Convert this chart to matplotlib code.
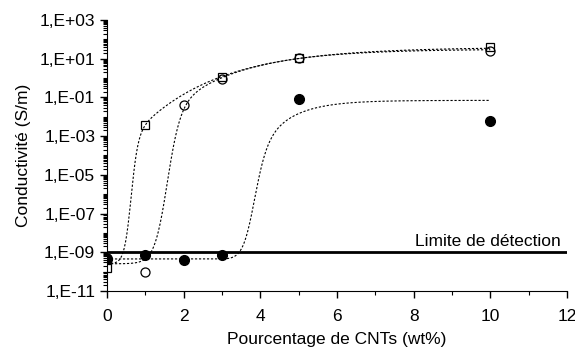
import numpy as np
import matplotlib
matplotlib.use("Agg")
import matplotlib.pyplot as plt
from matplotlib import ticker

plt.rcParams['font.family'] = ['Liberation Sans', 'DejaVu Sans']

# measured conductivity (S/m) vs CNT content (wt%)
pct = [0, 1, 2, 3, 5, 10]
filled_circles = [4.5e-10, 7e-10, 3.8e-10, 7e-10, 8e-2, 5.8e-3]
open_circles = [5e-10, 9e-11, 3.9e-2, 0.95, 11, 24]
open_squares = [1.5e-10, 4e-3, None, 1.1, 11, 40]

detection_limit = 1e-9

# fitted trend lines (log10 space): base, top, centre, sharp width, slow width, slow amplitude
fit_squares = [-9.6, 1.6, 0.62, 0.09, 2.1, 4.7]
fit_open = [-9.6, 1.5, 1.55, 0.17, 1.8, 3.3]
fit_filled = [-9.35, -1.15, 3.8, 0.16, 0.8, 3.05]


def trend(x, p):
    base, top, c1, w1, w2, d = p
    gate = 1 / (1 + np.exp(-(x - c1) / w1))
    return 10 ** (base + gate * (top - base - d * np.exp(-(x - c1) / w2)))


fig = plt.figure(figsize=(5.75, 3.53), dpi=100)
ax = fig.add_axes([0.186, 0.176, 0.800, 0.767])

xx = np.linspace(0, 10, 600)
for p in (fit_squares, fit_open, fit_filled):
    ax.plot(xx, trend(xx, p), color='black', lw=0.8, ls=(0, (2.0, 1.6)), zorder=2)

ax.plot([0, 12], [detection_limit, detection_limit], color='black', lw=2, zorder=3)
ax.text(11.85, 1.5e-9, 'Limite de détection', ha='right', va='bottom', fontsize=12.5)

xs = [x for x, v in zip(pct, open_squares) if v is not None]
ys = [v for v in open_squares if v is not None]
ax.plot(xs, ys, ls='none', marker='s', ms=6.2, mfc='none', mec='black', mew=0.9, zorder=4)
ax.plot(pct, open_circles, ls='none', marker='o', ms=6.5, mfc='none', mec='black', mew=0.9, zorder=4)
ax.plot(pct, filled_circles, ls='none', marker='o', ms=7, mfc='black', mec='black', zorder=5)

ax.set_yscale('log')
ax.set_xlim(0, 12)
ax.set_ylim(1e-11, 1e3)
ax.spines['top'].set_visible(False)
ax.spines['right'].set_visible(False)

ax.xaxis.set_major_locator(ticker.MultipleLocator(2))
ax.xaxis.set_minor_locator(ticker.MultipleLocator(1))
ax.yaxis.set_major_locator(ticker.FixedLocator(10.0 ** np.arange(-11, 4, 2)))
ax.yaxis.set_minor_locator(ticker.LogLocator(base=10, subs=np.arange(1, 10), numticks=200))
ax.yaxis.set_major_formatter(ticker.FuncFormatter(
    lambda v, pos=None: f"1,E{int(round(np.log10(v))):+03d}"))
ax.yaxis.set_minor_formatter(ticker.NullFormatter())

ax.tick_params(which='major', direction='out', length=5, width=1, labelsize=12.5)
ax.tick_params(which='minor', direction='out', length=3, width=0.8)
ax.tick_params(axis='x', pad=8)

ax.set_xlabel('Pourcentage de CNTs (wt%)', fontsize=12.5, labelpad=6)
ax.set_ylabel('Conductivité (S/m)', fontsize=12.5, labelpad=6)

fig.savefig('out.png', dpi=100)
